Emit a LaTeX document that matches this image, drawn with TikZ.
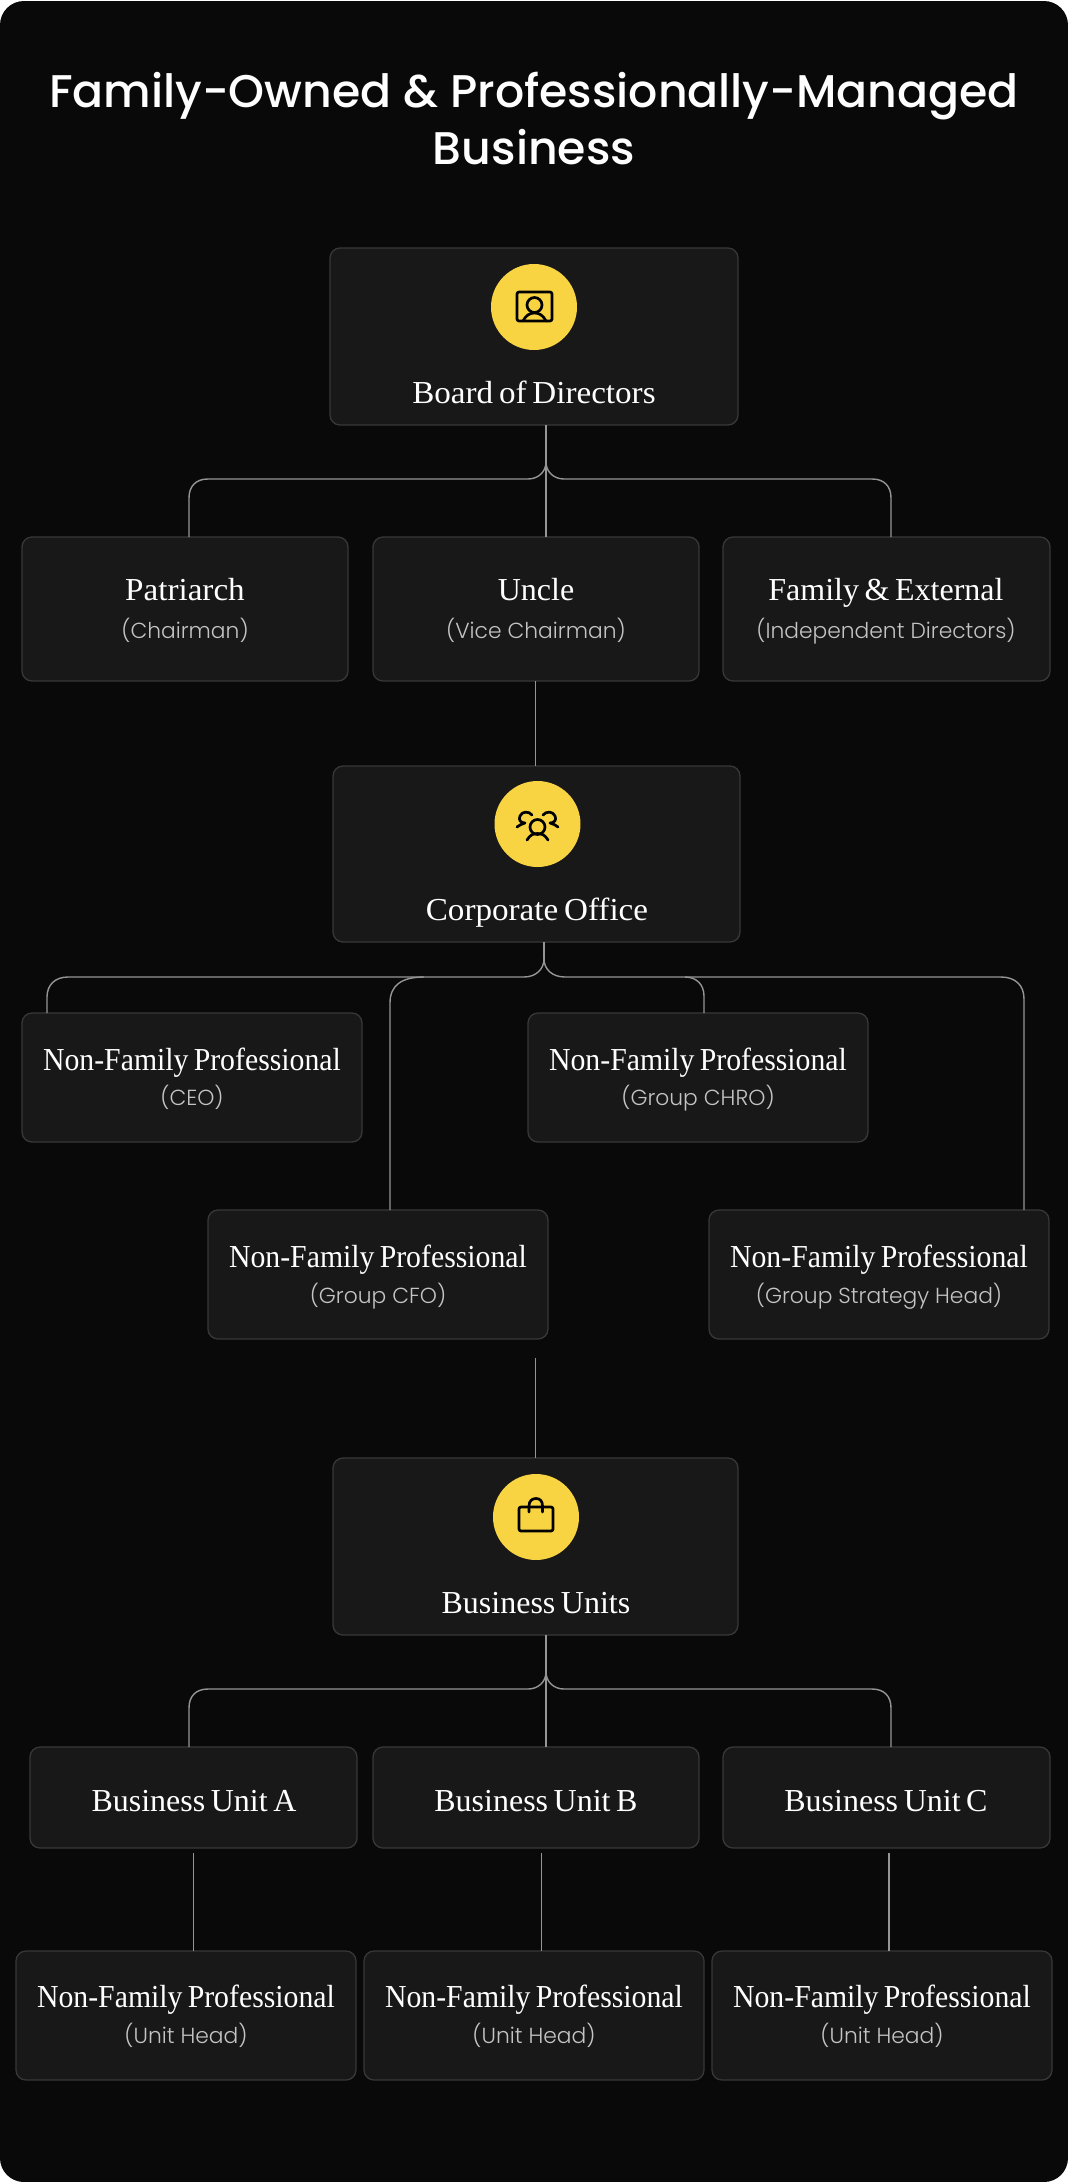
\documentclass[tikz,border=0pt]{standalone}
\usepackage{fontspec}
\newfontfamily\titlefont{Poppins Medium}
\newfontfamily\subfont{Poppins Light}
\newfontfamily\headfont{Liberation Serif}[WordSpace=0.7]
\newfontfamily\headtight{Liberation Serif}[WordSpace=0.7,FakeStretch=0.93]
\newfontfamily\headwide{Liberation Serif}[WordSpace=0.7,FakeStretch=1.035]
\definecolor{pagebg}{HTML}{090909}
\definecolor{boxfill}{HTML}{181818}
\definecolor{boxline}{HTML}{383838}
\definecolor{wire}{HTML}{959595}
\definecolor{badge}{HTML}{F8D342}
\definecolor{subtext}{HTML}{C4C4C4}
\tikzset{
  cardbox/.style={draw=boxline,fill=boxfill,line width=1.3pt,rounded corners=10pt,inner sep=0pt,outer sep=0pt},
  wireline/.style={draw=wire,line width=1.4pt},
  head/.style={text=white,inner sep=0pt,anchor=base,yshift=-11pt,font=\headfont\fontsize{32}{36}\selectfont},
  headn/.style={head,font=\headtight\fontsize{32}{36}\selectfont},
  headw/.style={head,font=\headwide\fontsize{32}{36}\selectfont},
  subhead/.style={text=subtext,inner sep=0pt,anchor=base,yshift=-7pt,font=\subfont\fontsize{21.8}{24}\selectfont},
  badgedisc/.style={circle,fill=badge,minimum size=86pt,inner sep=0pt},
  glyph/.style={draw=black,line width=2.7pt,line cap=round,line join=round},
  heading/.style={text=white,inner sep=0pt,align=center,font=\titlefont\fontsize{45.8}{57}\selectfont},
}
\newcommand{\card}[5]{% name, x0, y0, x1, y1
  \node[cardbox,anchor=north west,minimum width=#4pt-#2pt,minimum height=#5pt-#3pt] (#1) at (#2,#3) {};}
\begin{document}
\begin{tikzpicture}[x=1pt,y=-1pt]
\useasboundingbox (0,0) rectangle (1068,2182);
\fill[white] (0,0) rectangle (1068,2182);
\fill[pagebg,rounded corners=24pt] (0,1) rectangle (1068,2182);
\node[heading] (title) at (534,119) {Family-Owned \& Professionally-Managed\\Business};

% cards
\card{board}{330}{248}{738}{425}
\card{patriarch}{22}{537}{348}{681}
\card{uncle}{373}{537}{699}{681}
\card{family}{723}{537}{1050}{681}
\card{corp}{333}{766}{740}{942}
\card{ceo}{22}{1013}{362}{1142}
\card{chro}{528}{1013}{868}{1142}
\card{cfo}{208}{1210}{548}{1339}
\card{strategy}{709}{1210}{1049}{1339}
\card{units}{333}{1458}{738}{1635}
\card{unita}{30}{1747}{357}{1848}
\card{unitb}{373}{1747}{699}{1848}
\card{unitc}{723}{1747}{1050}{1848}
\card{heada}{16}{1951}{356}{2080}
\card{headb}{364}{1951}{704}{2080}
\card{headc}{712}{1951}{1052}{2080}

% connectors: guide coordinates
\coordinate (fanA) at (546,462);
\coordinate (fanB) at (544,959);
\coordinate (fanC) at (546,1672);
\coordinate (gapC) at (535.4,1358);
\coordinate (gapU1) at (193.5,1853);
\coordinate (gapU2) at (541.5,1853);
\coordinate (gapU3) at (889,1853);

\draw[wireline] (board.south -| fanA) -- (uncle.north -| fanA);
\draw[wireline] (fanA) .. controls (546,472) and (538,479) .. (528,479) -- (208,479) .. controls (196,479) and (189,486) .. (189,498) -- (patriarch.north -| 189,0);
\draw[wireline] (fanA) .. controls (546,472) and (554,479) .. (564,479) -- (872,479) .. controls (884,479) and (891,486) .. (891,498) -- (family.north -| 891,0);

\draw[wireline] (uncle.south -| 535.4,0) -- (corp.north -| 535.4,0);

\draw[wireline] (corp.south -| fanB) -- (fanB);
\draw[wireline] (fanB) .. controls (544,969) and (536,977) .. (524,977) -- (68,977) .. controls (55,977) and (47,985) .. (47,997) -- (ceo.north -| 47,0);
\draw[wireline] (424,977) .. controls (402,977) and (390,985) .. (390,1003) -- (cfo.north -| 390,0);
\draw[wireline] (fanB) .. controls (544,969) and (552,977) .. (565,977) -- (685,977) .. controls (697,977) and (704,985) .. (704,996) -- (chro.north -| 704,0);
\draw[wireline] (685,977) -- (1001,977) .. controls (1015,977) and (1024,985) .. (1024,999) -- (strategy.north -| 1024,0);

\draw[wireline] (gapC) -- (units.north -| gapC);

\draw[wireline] (units.south -| fanC) -- (unitb.north -| fanC);
\draw[wireline] (fanC) .. controls (546,1682) and (538,1689) .. (528,1689) -- (208,1689) .. controls (196,1689) and (189,1696) .. (189,1708) -- (unita.north -| 189,0);
\draw[wireline] (fanC) .. controls (546,1682) and (554,1689) .. (564,1689) -- (872,1689) .. controls (884,1689) and (891,1696) .. (891,1708) -- (unitc.north -| 891,0);

\draw[wireline] (gapU1) -- (heada.north -| gapU1);
\draw[wireline] (gapU2) -- (headb.north -| gapU2);
\draw[wireline] (gapU3) -- (headc.north -| gapU3);

% badges
\node[badgedisc] (badgeA) at (534,307) {};
\node[badgedisc] (badgeB) at (537.5,824) {};
\node[badgedisc] (badgeC) at (536,1517) {};

% icon: portrait
\draw[glyph,rounded corners=2pt] (517,292) rectangle (552,321);
\draw[glyph] (534.5,305) circle (7.5);
\draw[glyph] (523,321) .. controls (526,315) and (530,313) .. (534.5,313) .. controls (539,313) and (543,315) .. (546,321);

% icon: group
\draw[glyph] (537.5,827) circle (7.5);
\draw[glyph] (527,840) .. controls (530,835) and (533,833.5) .. (537.5,833.5) .. controls (542,833.5) and (545,835) .. (548,840);
\draw[glyph] (532,815) .. controls (529,811) and (522,811) .. (520,816) .. controls (518,820) and (521,823) .. (525,823) .. controls (522,824) and (519,825) .. (517,827);
\draw[glyph] (543,815) .. controls (546,811) and (553,811) .. (555,816) .. controls (557,820) and (554,823) .. (550,823) .. controls (553,824) and (556,825) .. (558,827);

% icon: bag
\draw[glyph,rounded corners=2pt] (519,1507) rectangle (553,1531);
\draw[glyph] (529,1512) -- (529,1506) .. controls (529,1501) and (532,1498.5) .. (536,1498.5) .. controls (540,1498.5) and (542.5,1501) .. (542.5,1506) -- (542.5,1512);

% texts
\node[headw] (tBoard) at (534,392) {Board of Directors};
\node[headw] (tPat) at (185,589) {Patriarch};
\node[subhead] (sPat) at (185,631) {(Chairman)};
\node[head] (tUncle) at (536,589) {Uncle};
\node[subhead] (sUncle) at (536,631) {(Vice Chairman)};
\node[head] (tFam) at (886,589) {Family \& External};
\node[subhead] (sFam) at (886,631) {(Independent Directors)};
\node[headw] (tCorp) at (537,909) {Corporate Office};
\node[headn] (tCeo) at (192,1059) {Non-Family Professional};
\node[subhead] (sCeo) at (192,1098) {(CEO)};
\node[headn] (tChro) at (698,1059) {Non-Family Professional};
\node[subhead] (sChro) at (698,1098) {(Group CHRO)};
\node[headn] (tCfo) at (378,1256) {Non-Family Professional};
\node[subhead] (sCfo) at (378,1296) {(Group CFO)};
\node[headn] (tStr) at (879,1256) {Non-Family Professional};
\node[subhead] (sStr) at (879,1296) {(Group Strategy Head)};
\node[head] (tUnits) at (536,1602) {Business Units};
\node[head] (tA) at (194,1800) {Business Unit A};
\node[head] (tB) at (536,1800) {Business Unit B};
\node[head] (tC) at (886,1800) {Business Unit C};
\node[headn] (tHa) at (186,1996) {Non-Family Professional};
\node[subhead] (sHa) at (186,2036) {(Unit Head)};
\node[headn] (tHb) at (534,1996) {Non-Family Professional};
\node[subhead] (sHb) at (534,2036) {(Unit Head)};
\node[headn] (tHc) at (882,1996) {Non-Family Professional};
\node[subhead] (sHc) at (882,2036) {(Unit Head)};
\end{tikzpicture}
\end{document}
